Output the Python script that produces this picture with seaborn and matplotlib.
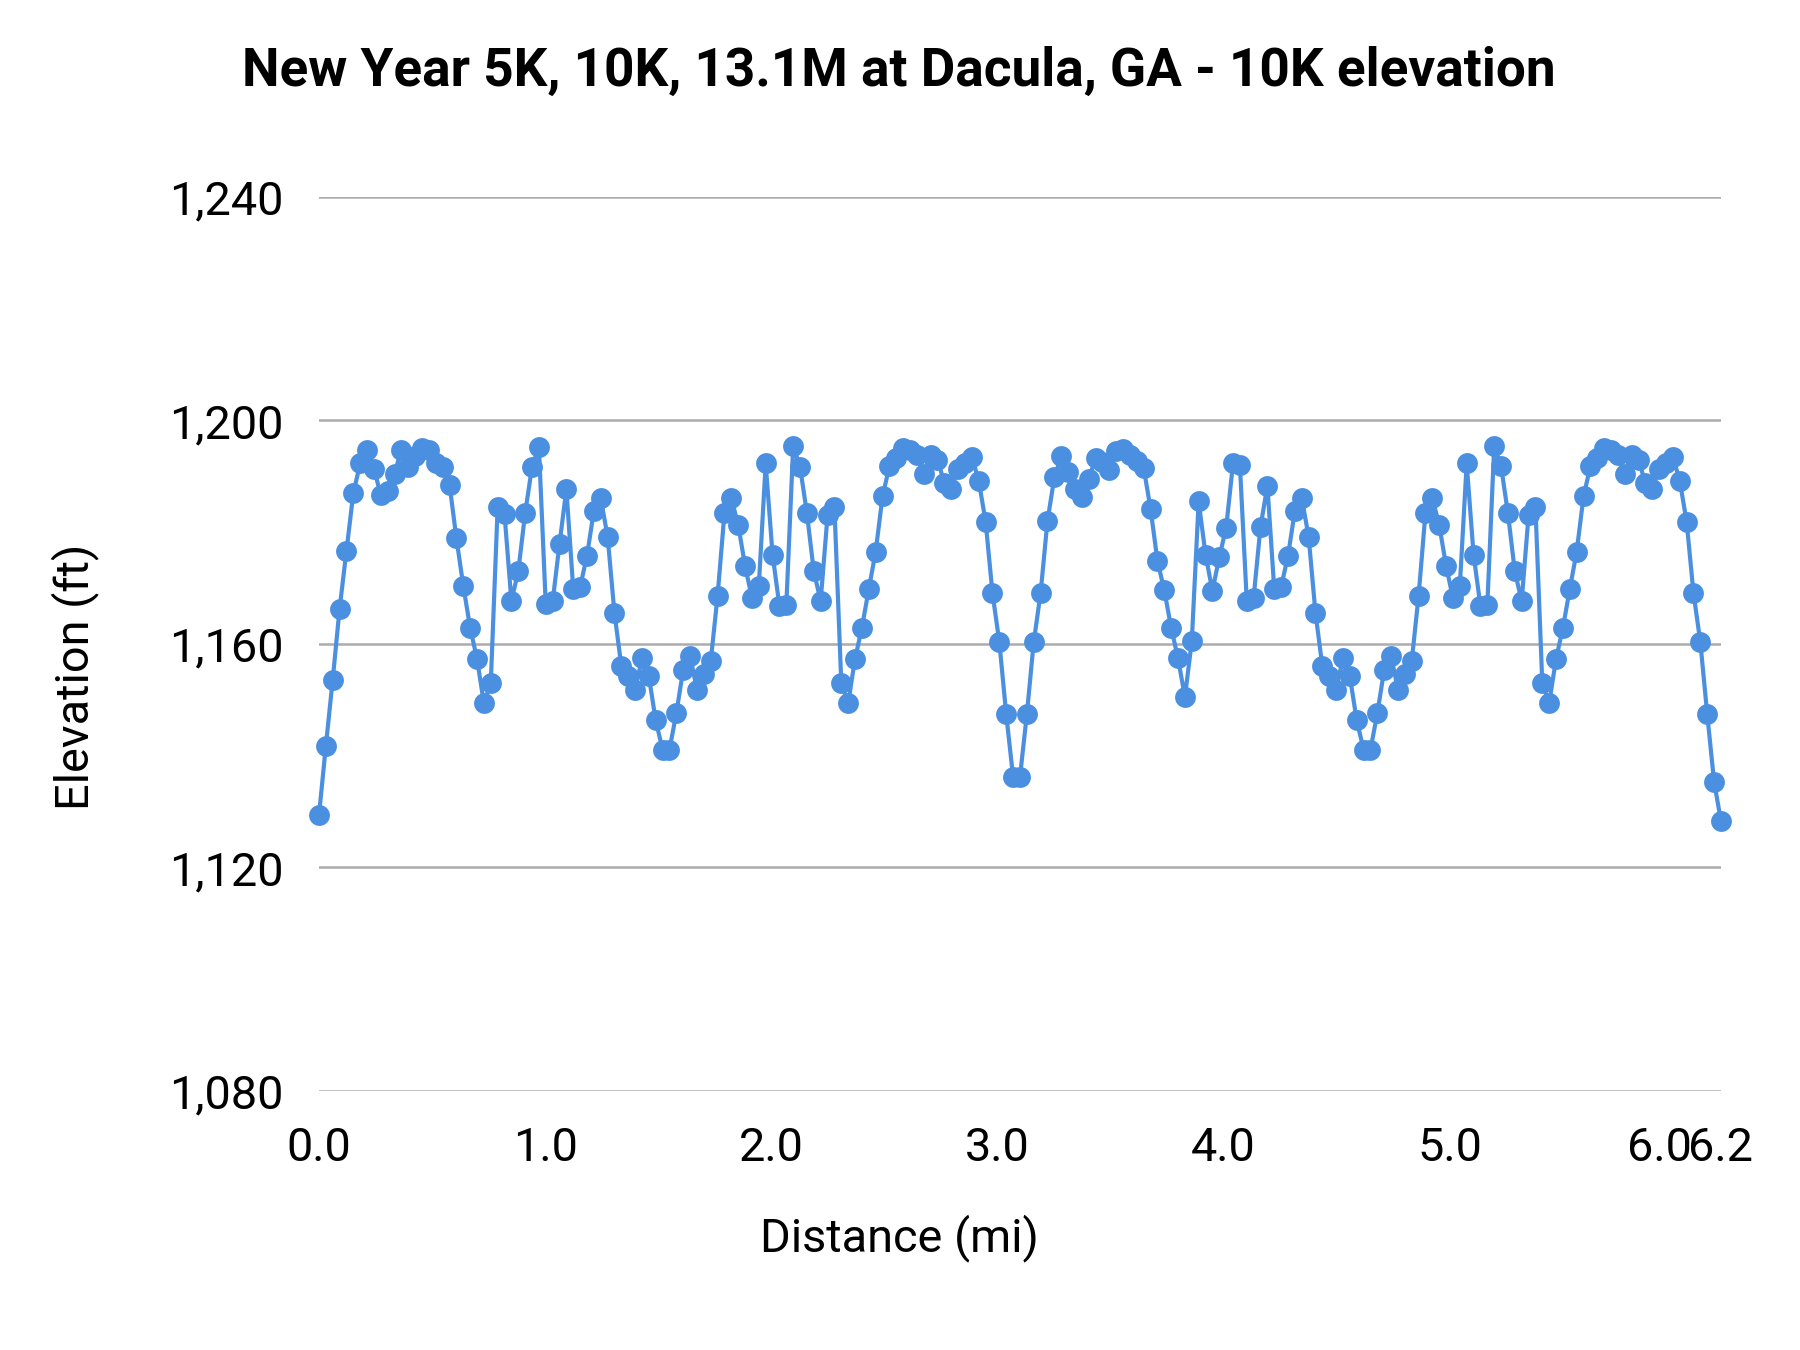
import numpy as np
import pandas as pd
import matplotlib.pyplot as plt
import matplotlib.transforms as mtransforms
import seaborn as sns
from matplotlib.ticker import FuncFormatter

# Elevation samples (ft), evenly spaced from 0 to 6.2 mi
elev_part1 = [1129.3, 1141.7, 1153.6, 1166.3, 1176.7, 1187.0, 1192.3, 1194.8, 1191.4, 1186.6,
              1187.4, 1190.5, 1194.8, 1191.7, 1193.6, 1195.1, 1194.8, 1192.4, 1191.7, 1188.5,
              1178.9, 1170.4, 1162.9, 1157.3, 1149.4, 1153.0, 1184.5, 1183.2, 1167.7, 1173.0,
              1183.4, 1191.7, 1195.3, 1167.1]
elev_part2 = [1167.6, 1177.9, 1187.7, 1169.8, 1170.2, 1175.8, 1183.8, 1186.1, 1179.2, 1165.5,
              1156.0, 1154.3, 1151.8, 1157.4, 1154.2, 1146.3, 1141.1, 1141.1, 1147.6, 1155.4,
              1157.9, 1151.8, 1154.6, 1156.9, 1168.6, 1183.4, 1186.1, 1181.3, 1174.0, 1168.2,
              1170.4, 1192.3, 1176.0, 1166.8]
elev_part3 = [1166.9, 1195.4, 1191.7, 1183.4, 1173.0, 1167.7, 1183.0, 1184.6, 1153.0, 1149.4,
              1157.3, 1162.9, 1169.8, 1176.5, 1186.4, 1191.8, 1193.2, 1195.1, 1194.7, 1193.9,
              1190.5, 1193.9, 1193.0, 1188.8, 1187.7, 1191.4, 1192.4, 1193.5, 1189.2, 1181.9,
              1169.1, 1160.3, 1147.4, 1136.2, 1136.2, 1147.4]
elev_part4 = [1160.3, 1169.1, 1182.0, 1189.8, 1193.6, 1190.8, 1187.7, 1186.3, 1189.5, 1193.2,
              1192.5, 1191.1, 1194.5, 1194.9, 1193.9, 1192.7, 1191.5, 1184.2, 1174.9, 1169.6,
              1162.9, 1157.4, 1150.5, 1160.5, 1185.5, 1176.0, 1169.5, 1175.5, 1180.8, 1192.3,
              1192.0, 1167.7, 1168.3, 1181.0, 1188.3]
elev_part5 = [1169.8, 1170.2, 1175.8, 1183.8, 1186.1, 1179.2, 1165.5, 1156.0, 1154.3, 1151.8,
              1157.4, 1154.2, 1146.3, 1141.1, 1141.1, 1147.6, 1155.4, 1157.9, 1151.8, 1154.6,
              1156.9, 1168.6, 1183.4, 1186.1, 1181.3, 1174.0, 1168.2, 1170.4, 1192.3, 1176.0,
              1166.8, 1166.9, 1195.4, 1191.8, 1183.4]
elev_part6 = [1173.0, 1167.7, 1183.0, 1184.6, 1153.0, 1149.4, 1157.3, 1162.9, 1169.8, 1176.5,
              1186.4, 1191.8, 1193.2, 1195.1, 1194.7, 1193.9, 1190.5, 1193.9, 1193.0, 1188.8,
              1187.7, 1191.4, 1192.4, 1193.5, 1189.2, 1181.9, 1169.1, 1160.3, 1147.4, 1135.3,
              1128.3]

elevation = elev_part1 + elev_part2 + elev_part3 + elev_part4 + elev_part5 + elev_part6
total_distance = 6.2
x_ticks = [0.0, 1.0, 2.0, 3.0, 4.0, 5.0, 6.0, 6.2]
y_ticks = [1080, 1120, 1160, 1200, 1240]

df = pd.DataFrame({
    'Distance': np.linspace(0, total_distance, len(elevation)),
    'Elevation': elevation,
})

sns.set_style('white')
plt.rcParams['font.family'] = ['Roboto', 'DejaVu Sans']
plt.rcParams['text.color'] = 'black'
plt.rcParams['axes.labelcolor'] = 'black'
plt.rcParams['xtick.color'] = 'black'
plt.rcParams['ytick.color'] = 'black'

fig = plt.figure(figsize=(12, 9), dpi=150)
ax = fig.add_axes([0.1772, 0.1919, 0.7789, 0.6622])

sns.lineplot(data=df, x='Distance', y='Elevation', ax=ax, color='#4A8FE0',
             linewidth=2, marker='o', markersize=10, markeredgewidth=0, clip_on=False)

ax.set_xlim(0, total_distance)
ax.set_ylim(1080, 1240)
ax.set_xticks(x_ticks)
ax.set_xticklabels([f'{t:.1f}' for t in x_ticks])
ax.set_yticks(y_ticks)
ax.yaxis.set_major_formatter(FuncFormatter(lambda v, p: f'{int(v):,}'))
ax.tick_params(axis='both', length=0, labelsize=22.5, pad=17)

# nudge the "6.0" label left so it sits next to "6.2" as in the original
shift = mtransforms.ScaledTranslation(-16 / 150, 0, fig.dpi_scale_trans)
lab = ax.get_xticklabels()[6]
lab.set_transform(lab.get_transform() + shift)

ax.grid(axis='y', color='#acacac', linewidth=1.2)
ax.set_axisbelow(True)
for s in ax.spines.values():
    s.set_visible(False)

ax.set_xlabel('Distance (mi)', fontsize=22.5)
ax.xaxis.set_label_coords(0.4137, -0.164)
ax.xaxis.label.set_verticalalignment('center')
ax.set_ylabel('Elevation (ft)', fontsize=22.5)
ax.yaxis.set_label_coords(-0.174, 0.463)
ax.yaxis.label.set_verticalalignment('center')

fig.text(0.4994, 0.947, 'New Year 5K, 10K, 13.1M at Dacula, GA - 10K elevation',
         ha='center', va='center', fontsize=25.5, fontweight='bold')

plt.savefig('out.png', dpi=150)
